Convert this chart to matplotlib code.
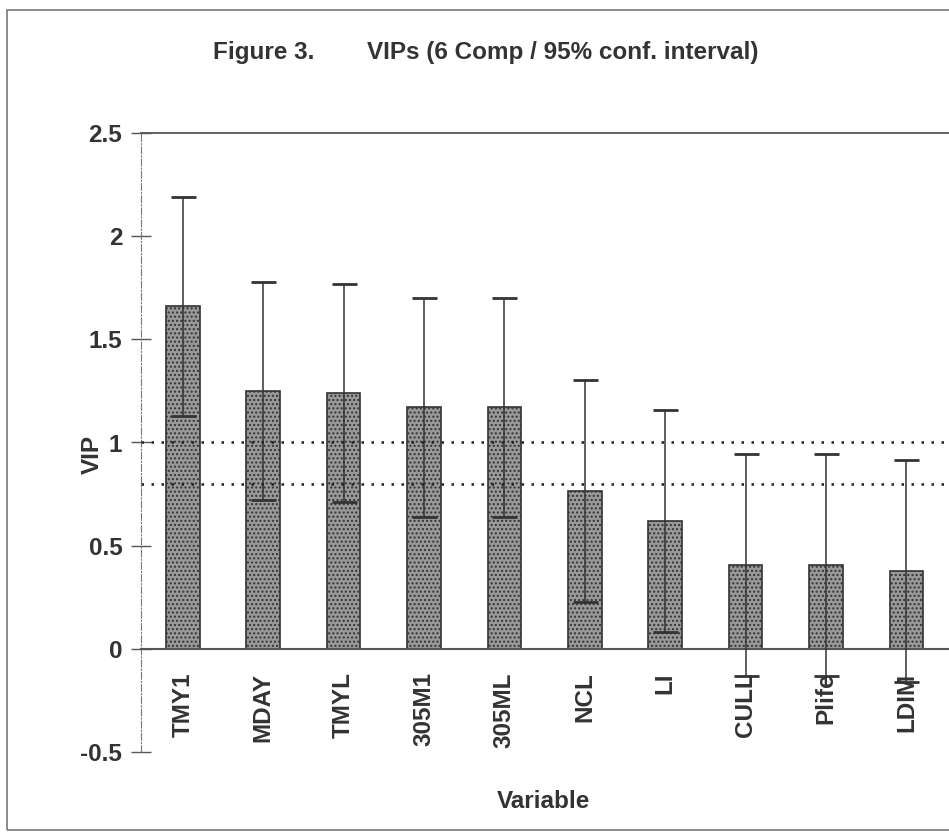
import numpy as np
import matplotlib
matplotlib.use('Agg')
from matplotlib import pyplot as plt
from matplotlib.patches import Rectangle

variables = ['TMY1', 'MDAY', 'TMYL', '305M1', '305ML', 'NCL', 'LI', 'CULL', 'Plife', 'LDIM']
vip = [1.66, 1.25, 1.24, 1.17, 1.17, 0.765, 0.62, 0.405, 0.405, 0.378]
ci = [0.53, 0.527, 0.529, 0.531, 0.531, 0.537, 0.538, 0.537, 0.537, 0.537]
ref_lines = [1.0, 0.8]
yticks = [-0.5, 0, 0.5, 1, 1.5, 2, 2.5]
ytick_labels = ['-0.5', '0', '0.5', '1', '1.5', '2', '2.5']

plt.rcParams['font.family'] = ['Liberation Sans', 'DejaVu Sans']
txt = dict(fontsize=17.5, fontweight='bold', color='#333333')

fig = plt.figure(figsize=(9.49, 8.39), dpi=100)

# outer frame of the scanned figure
fig.patches.append(Rectangle((7/949, 1-830/839), 1.2, (830-10)/839, transform=fig.transFigure,
                             fill=False, edgecolor='#777777', lw=1.2))

ax = fig.add_axes([141/949, 1-752/839, (949-141)/949, (752-133)/839])
ax.spines['bottom'].set_position(('data', 0))

x = np.arange(len(variables))
ax.bar(x, vip, width=0.42, color='#999999', edgecolor='#333333', hatch='....', lw=1.2, zorder=2)
ax.errorbar(x, vip, yerr=ci, fmt='none', ecolor='#333333', elinewidth=1.1,
            capsize=9, capthick=2, zorder=3)
for r in ref_lines:
    ax.axhline(r, color='#222222', ls=(0, (1, 3)), lw=1.8, zorder=4)

ax.set_xlim(-0.52, 9.53)
ax.set_ylim(-0.5, 2.5)
ax.set_yticks(yticks)
ax.set_yticklabels(ytick_labels, **txt)
ax.set_xticks(x)
ax.set_xticklabels(variables, rotation=90, **txt)
ax.tick_params(axis='x', length=0, pad=17)
ax.tick_params(axis='y', direction='inout', length=15, width=1, color='#555555', pad=6)

ax.spines['bottom'].set_color('#555555')
ax.spines['bottom'].set_linewidth(1.5)
ax.spines['left'].set_linestyle((0, (6, 2, 1, 2)))
ax.spines['left'].set_color('#777777')
ax.spines['top'].set_color('#555555')
ax.spines['top'].set_linewidth(1.3)
ax.spines['right'].set_visible(False)

fig.text(92/949, 1-455/839, 'VIP', rotation=90, ha='center', va='center', **txt)
fig.text(544/949, 1-801/839, 'Variable', ha='center', va='center', **txt)
fig.text(213/949, 1-52/839, 'Figure 3.', ha='left', va='center', **txt)
fig.text(367/949, 1-52/839, 'VIPs (6 Comp / 95% conf. interval)', ha='left', va='center', **txt)

fig.savefig('out.png', dpi=100)
